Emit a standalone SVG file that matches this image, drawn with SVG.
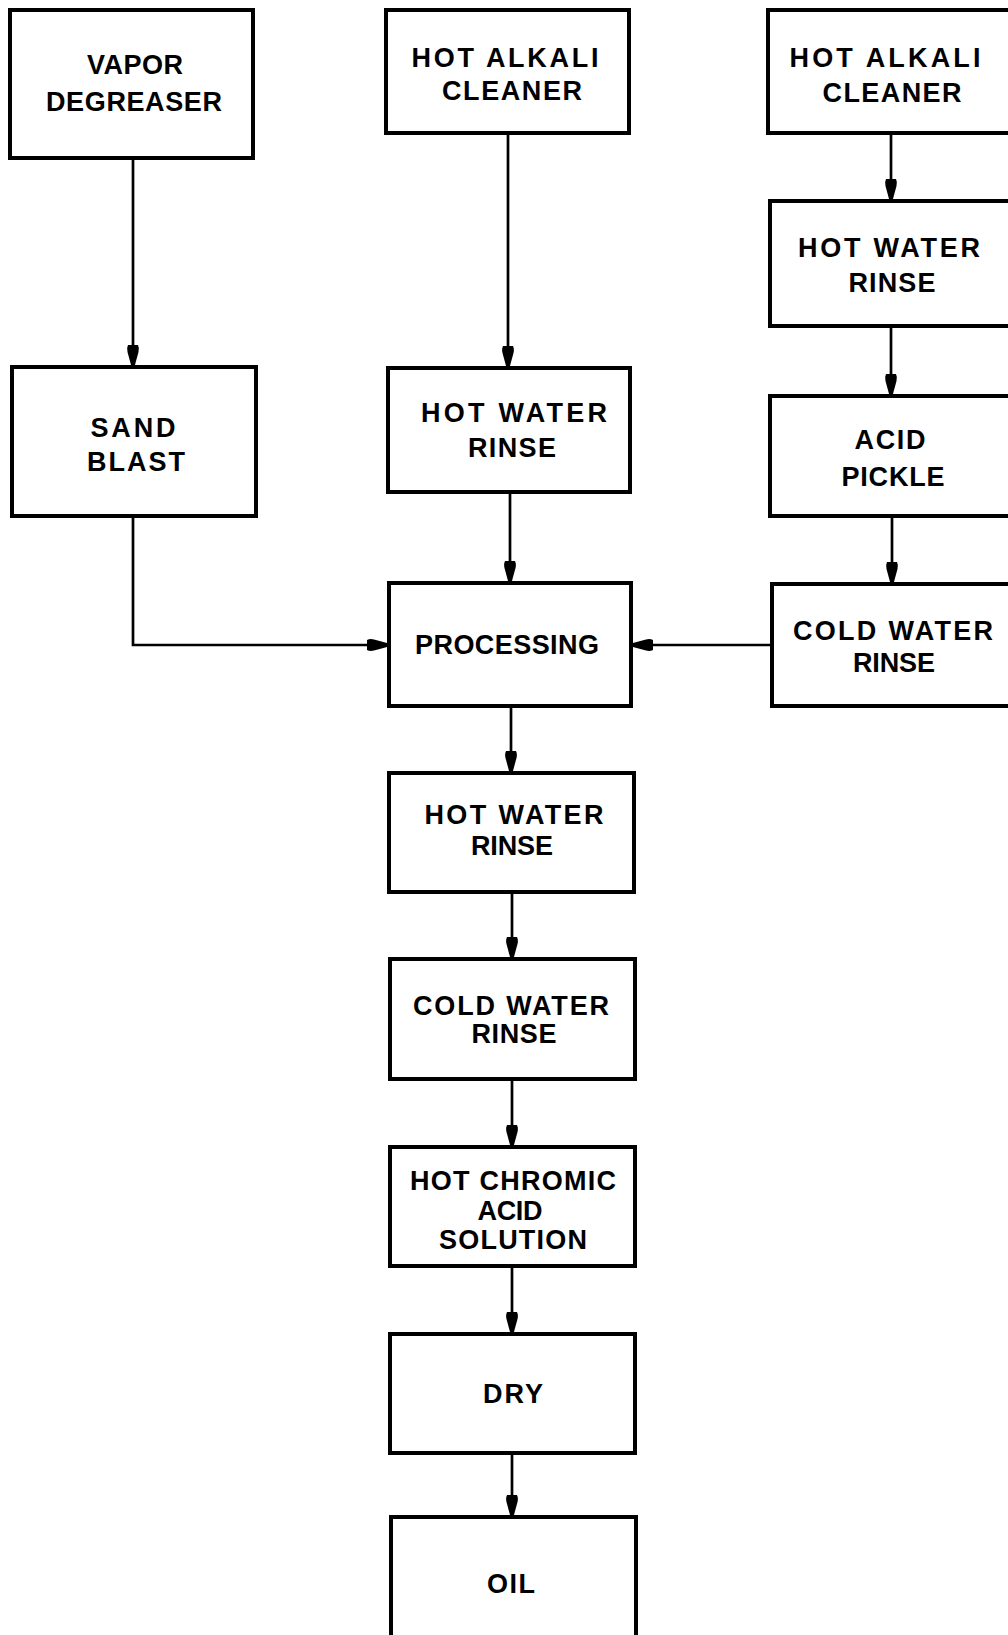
<svg xmlns="http://www.w3.org/2000/svg" width="1008" height="1635" viewBox="0 0 1008 1635">
<style>
.box{fill:#fff;stroke:#000;stroke-width:4}
.lbl{font-family:"Liberation Sans","DejaVu Sans",sans-serif;font-weight:bold;font-size:27px;fill:#000;text-anchor:middle}
.ln{fill:none;stroke:#000;stroke-width:2.7}
</style>
<defs>
<marker id="ah" markerUnits="userSpaceOnUse" markerWidth="22" markerHeight="14" refX="21" refY="7" orient="auto">
<path d="M0,2 Q3,0.5 7,1.5 L21,5.3 L21,8.7 L7,12.5 Q3,13.5 0,12 Z" fill="#000"/>
</marker>
</defs>
<rect width="1008" height="1635" fill="#fff"/>
<g id="connectors">
<line class="ln" x1="133" y1="158" x2="133" y2="366" marker-end="url(#ah)"/>
<line class="ln" x1="508" y1="133" x2="508" y2="367" marker-end="url(#ah)"/>
<line class="ln" x1="510" y1="492" x2="510" y2="582" marker-end="url(#ah)"/>
<polyline class="ln" points="133,516 133,645 388,645" marker-end="url(#ah)"/>
<line class="ln" x1="772" y1="645" x2="632" y2="645" marker-end="url(#ah)"/>
<line class="ln" x1="891" y1="133" x2="891" y2="200" marker-end="url(#ah)"/>
<line class="ln" x1="891" y1="326" x2="891" y2="395" marker-end="url(#ah)"/>
<line class="ln" x1="892" y1="516" x2="892" y2="583" marker-end="url(#ah)"/>
<line class="ln" x1="511" y1="706" x2="511" y2="772" marker-end="url(#ah)"/>
<line class="ln" x1="512" y1="892" x2="512" y2="958" marker-end="url(#ah)"/>
<line class="ln" x1="512" y1="1079" x2="512" y2="1146" marker-end="url(#ah)"/>
<line class="ln" x1="512" y1="1266" x2="512" y2="1333" marker-end="url(#ah)"/>
<line class="ln" x1="512" y1="1453" x2="512" y2="1516" marker-end="url(#ah)"/>
</g>
<g id="vapor-degreaser"><rect class="box" x="10" y="10" width="243" height="148"/>
<text class="lbl" x="135" y="74" textLength="96">VAPOR</text>
<text class="lbl" x="134" y="111" textLength="176">DEGREASER</text></g>
<g id="hot-alkali-cleaner-mid"><rect class="box" x="386" y="10" width="243" height="123"/>
<text class="lbl" x="505" y="67" textLength="187">HOT ALKALI</text>
<text class="lbl" x="512" y="100" textLength="140">CLEANER</text></g>
<g id="hot-alkali-cleaner-right"><rect class="box" x="768" y="10" width="250" height="123"/>
<text class="lbl" x="885" y="67" textLength="191">HOT ALKALI</text>
<text class="lbl" x="892" y="102" textLength="139">CLEANER</text></g>
<g id="hot-water-rinse-right"><rect class="box" x="770" y="201" width="250" height="125"/>
<text class="lbl" x="889" y="257" textLength="182">HOT WATER</text>
<text class="lbl" x="892" y="292" textLength="87">RINSE</text></g>
<g id="acid-pickle"><rect class="box" x="770" y="396" width="250" height="120"/>
<text class="lbl" x="890" y="449" textLength="71">ACID</text>
<text class="lbl" x="893" y="486" textLength="103">PICKLE</text></g>
<g id="cold-water-rinse-right"><rect class="box" x="772" y="584" width="250" height="122"/>
<text class="lbl" x="893" y="640" textLength="200">COLD WATER</text>
<text class="lbl" x="894" y="672" textLength="82">RINSE</text></g>
<g id="sand-blast"><rect class="box" x="12" y="367" width="244" height="149"/>
<text class="lbl" x="133" y="437" textLength="85">SAND</text>
<text class="lbl" x="136" y="471" textLength="98">BLAST</text></g>
<g id="hot-water-rinse-mid"><rect class="box" x="388" y="368" width="242" height="124"/>
<text class="lbl" x="514" y="422" textLength="186">HOT WATER</text>
<text class="lbl" x="512" y="457" textLength="88">RINSE</text></g>
<g id="processing"><rect class="box" x="389" y="583" width="242" height="123"/>
<text class="lbl" x="507" y="654" textLength="184">PROCESSING</text></g>
<g id="hot-water-rinse-low"><rect class="box" x="389" y="773" width="245" height="119"/>
<text class="lbl" x="514" y="824" textLength="179">HOT WATER</text>
<text class="lbl" x="512" y="855" textLength="82">RINSE</text></g>
<g id="cold-water-rinse-low"><rect class="box" x="390" y="959" width="245" height="120"/>
<text class="lbl" x="511" y="1015" textLength="196">COLD WATER</text>
<text class="lbl" x="514" y="1043" textLength="85">RINSE</text></g>
<g id="hot-chromic-acid"><rect class="box" x="390" y="1147" width="245" height="119"/>
<text class="lbl" x="513" y="1190" textLength="206">HOT CHROMIC</text>
<text class="lbl" x="510" y="1220" textLength="65">ACID</text>
<text class="lbl" x="513" y="1249" textLength="148">SOLUTION</text></g>
<g id="dry"><rect class="box" x="390" y="1334" width="245" height="119"/>
<text class="lbl" x="513" y="1403" textLength="60">DRY</text></g>
<g id="oil"><rect class="box" x="391" y="1517" width="245" height="130"/>
<text class="lbl" x="511" y="1593" textLength="48">OIL</text></g>
</svg>
